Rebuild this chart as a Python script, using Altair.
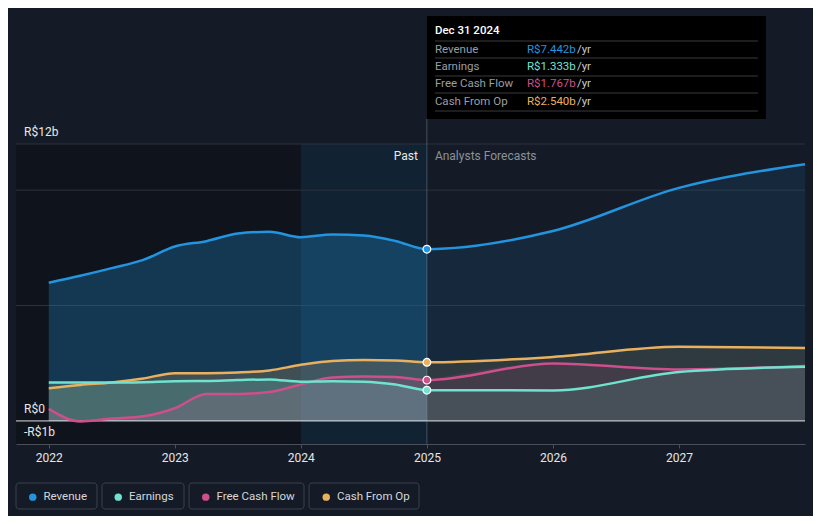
import altair as alt
import pandas as pd

# ---------------- data ----------------
series = ["Revenue", "Earnings", "Free Cash Flow", "Cash From Op"]
colors = ["#2394df", "#6fe3d0", "#cd4f8c", "#e9b15f"]

past_t = [2022.0, 2022.25, 2022.5, 2022.75, 2023.0, 2023.25, 2023.5, 2023.75,
          2024.0, 2024.25, 2024.5, 2024.75, 2025.0]
fut_t = [2025.0, 2026.0, 2027.0, 2028.0]

revenue_past = [5.99, 6.29, 6.62, 6.98, 7.56, 7.79, 8.12, 8.20, 7.96, 8.08, 8.03, 7.80, 7.442]
revenue_fut = [7.442, 8.23, 10.10, 11.12]
earnings_past = [1.66, 1.66, 1.66, 1.68, 1.72, 1.73, 1.77, 1.80, 1.70, 1.72, 1.70, 1.58, 1.333]
earnings_fut = [1.333, 1.32, 2.12, 2.35]
fcf_past = [0.52, -0.02, 0.10, 0.20, 0.55, 1.17, 1.17, 1.25, 1.58, 1.88, 1.92, 1.90, 1.767]
fcf_fut = [1.767, 2.49, 2.23, 2.38]
cfo_past = [1.42, 1.56, 1.67, 1.84, 2.07, 2.07, 2.10, 2.19, 2.43, 2.60, 2.64, 2.62, 2.540]
cfo_fut = [2.540, 2.77, 3.21, 3.16]

y_ticks = [12, 0, -1]
y_tick_labels = ["R$12b", "R$0", "-R$1b"]
grid_vals = [5, 10, 12]
x_ticks = [2022, 2023, 2024, 2025, 2026, 2027]

now_t = 2025.0
band_start = 2024.0
tip_date = "Dec 31 2024"
tip_values = ["R$7.442b", "R$1.333b", "R$1.767b", "R$2.540b"]
tip_unit = "/yr"

# ---------------- build tables ----------------
past_vals = {"Revenue": revenue_past, "Earnings": earnings_past,
             "Free Cash Flow": fcf_past, "Cash From Op": cfo_past}
fut_vals = {"Revenue": revenue_fut, "Earnings": earnings_fut,
            "Free Cash Flow": fcf_fut, "Cash From Op": cfo_fut}
col = dict(zip(series, colors))


def table(name, ts, vs):
    return pd.DataFrame({"series": name, "t": ts, "v": vs})


x_scale = alt.Scale(domain=[2021.74, 2028.0], nice=False, zero=False)
y_scale = alt.Scale(domain=[-1, 12], nice=False, zero=False)
FONT = "Roboto"

x_axis = alt.Axis(values=x_ticks, format="d", grid=False, tickSize=4, labelPadding=4,
                  domainColor="#4a5059", tickColor="#4a5059", labelColor="#e6e6e6",
                  labelFontSize=12, labelFont=FONT, title=None, labelFlush=False)


def X(field="t"):
    return alt.X(f"{field}:Q", scale=x_scale, axis=x_axis, title=None)


def Y(field="v"):
    return alt.Y(f"{field}:Q", scale=y_scale, axis=None, stack=None)


one_df = pd.DataFrame({"t0": [x_scale.domain[0]], "t": [now_t], "tb": [band_start]})

layers = []

# darker "past" region
layers.append(alt.Chart(one_df).mark_rect(color="#000000", opacity=0.25).encode(
    x=X("t0"), x2="t:Q", y=alt.value(0), y2=alt.value(300)))
# highlighted last-year band
layers.append(alt.Chart(one_df).mark_rect(color="#2394df", opacity=0.12).encode(
    x=X("tb"), x2="t:Q", y=alt.value(0), y2=alt.value(300)))
# gridlines
layers.append(alt.Chart(pd.DataFrame({"g": grid_vals})).mark_rule(
    color="#2c333d", strokeWidth=1).encode(y=Y("g")))

draw_order = ["Revenue", "Cash From Op", "Free Cash Flow", "Earnings"]
for s in draw_order:
    op = 0.28 if s == "Revenue" else 0.2
    layers.append(alt.Chart(table(s, past_t, past_vals[s])).mark_area(
        interpolate="monotone", color=col[s], opacity=op).encode(
        x=X(), y=Y(), y2=alt.Y2(datum=0)))
for s in draw_order:
    layers.append(alt.Chart(table(s, fut_t, fut_vals[s])).mark_area(
        interpolate="monotone", color=col[s], opacity=0.12).encode(
        x=X(), y=Y(), y2=alt.Y2(datum=0)))

# zero line
layers.append(alt.Chart(pd.DataFrame({"z": [0]})).mark_rule(
    color="#ffffff", opacity=0.85, strokeWidth=1).encode(y=Y("z")))

for s in draw_order:
    df = table(s, past_t + fut_t[1:], past_vals[s] + fut_vals[s][1:])
    layers.append(alt.Chart(df).mark_line(
        interpolate="monotone", color=col[s], strokeWidth=2.5).encode(x=X(), y=Y()))

# "now" vertical line
layers.append(alt.Chart(one_df).mark_rule(color="#9fb0c2", opacity=0.35, strokeWidth=1).encode(
    x=X(), y=alt.value(-25), y2=alt.value(300)))

# dots at now + legend
dots = pd.DataFrame({"series": series, "t": now_t,
                     "v": [past_vals[s][-1] for s in series]})
layers.append(alt.Chart(dots).mark_point(
    filled=True, size=60, stroke="#ffffff", strokeWidth=1.2, opacity=1).encode(
    x=X(), y=Y(),
    color=alt.Color("series:N", scale=alt.Scale(domain=series, range=colors),
                    legend=alt.Legend(orient="none", legendX=11, legendY=347,
                                      direction="horizontal", title=None,
                                      symbolType="circle", symbolSize=55,
                                      symbolStrokeWidth=0, symbolOpacity=1,
                                      labelFont=FONT, labelFontSize=11.5,
                                      labelColor="#d5d7da", labelOffset=5,
                                      columnPadding=25.5, padding=0))))

# y labels
layers.append(alt.Chart(pd.DataFrame({"val": y_ticks, "lab": y_tick_labels})).mark_text(
    align="left", baseline="middle", dy=-12, color="#e8e8e8", fontSize=12, font=FONT).encode(
    x=alt.value(8), y=Y("val"), text="lab:N"))

# Past / Analysts Forecasts
layers.append(alt.Chart(one_df).mark_text(
    text="Past", align="right", baseline="middle", dx=-9, color="#e8e8e8",
    fontSize=12, font=FONT).encode(x=X(), y=alt.value(12)))
layers.append(alt.Chart(one_df).mark_text(
    text="Analysts Forecasts", align="left", baseline="middle", dx=8, color="#8b9198",
    fontSize=12, font=FONT).encode(x=X(), y=alt.value(12)))

# tooltip box
layers.append(alt.Chart(one_df).mark_rect(color="#000000", x2Offset=339).encode(
    x=X(), x2="t:Q", y=alt.value(-128), y2=alt.value(-25)))
layers.append(alt.Chart(one_df).mark_text(
    text=tip_date, align="left", baseline="middle", dx=8, color="#ffffff",
    fontSize=11.5, fontWeight=500, font=FONT).encode(x=X(), y=alt.value(-113)))
for sep_y in [-103, -86, -68, -51, -33]:
    layers.append(alt.Chart(one_df).mark_rule(
        color="#3a3a3a", strokeWidth=1, xOffset=8, x2Offset=331).encode(
        x=X(), x2="t:Q", y=alt.value(sep_y)))
row_y = [-94.5, -77.5, -60, -42.5]
for s, val, ry in zip(series, tip_values, row_y):
    layers.append(alt.Chart(one_df).mark_text(
        text=s, align="left", baseline="middle", dx=8, color="#9a9ea4",
        fontSize=11.5, font=FONT).encode(x=X(), y=alt.value(ry)))
    layers.append(alt.Chart(one_df).mark_text(
        text=val, align="left", baseline="middle", dx=100, color=col[s],
        fontSize=11.5, font=FONT).encode(x=X(), y=alt.value(ry)))
    layers.append(alt.Chart(one_df).mark_text(
        text=tip_unit, align="left", baseline="middle", dx=150, color="#c8cacd",
        fontSize=11.5, font=FONT).encode(x=X(), y=alt.value(ry)))

# legend item boxes (decoration)
for bx0, bx1 in [(0, 81), (86, 168), (173, 288), (293, 403)]:
    layers.append(alt.Chart(one_df).mark_rect(
        fill="transparent", stroke="#3b424c", strokeWidth=1, cornerRadius=3).encode(
        x=alt.value(bx0), x2=alt.value(bx1), y=alt.value(339), y2=alt.value(365)))

chart = alt.layer(*layers).properties(
    width=789, height=300,
    autosize=alt.AutoSizeParams(type="none"),
    padding={"left": 8, "top": 136, "right": 8, "bottom": 72},
    background="#151b26",
).configure_view(stroke=None)

chart.save("out.html", embed_options={"renderer": "svg", "actions": False})
